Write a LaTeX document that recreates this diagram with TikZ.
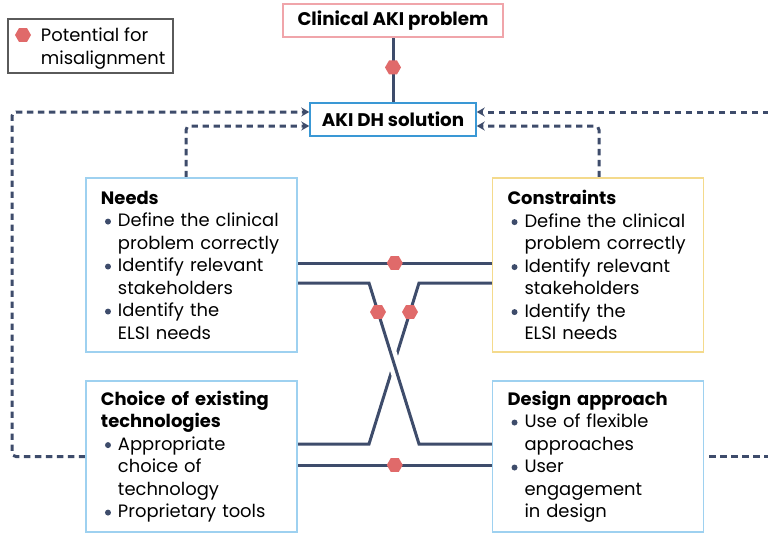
\documentclass[tikz,border=0pt]{standalone}
\usepackage{fontspec}
\setmainfont{Poppins}
\usetikzlibrary{positioning,arrows.meta,shapes.geometric,backgrounds}

\definecolor{navy}{HTML}{3E4C6B}
\definecolor{hexred}{HTML}{E06A6A}
\definecolor{boxblue}{HTML}{9ED1F0}
\definecolor{boxyellow}{HTML}{F4DA8C}
\definecolor{boxpink}{HTML}{F0A5AA}
\definecolor{solblue}{HTML}{3A98D5}
\definecolor{keygray}{HTML}{5A5A5A}

\hyphenpenalty=10000

% bullet with hanging indent, lines broken with \newline
\newlength{\bind}
\setlength{\bind}{0.51cm}
\newcommand{\bdot}{\tikz[baseline=-0.15cm]\fill[navy] (0,0) circle (0.09cm);}
\newcommand{\bitem}[1]{\par\noindent\hangindent=\bind\hangafter=1%
  \makebox[\bind][l]{\hspace{0.12cm}\bdot}#1\par}

\begin{document}
\begin{tikzpicture}[
  x=0.03cm, y=-0.03cm,
  box/.style={rectangle, draw=boxblue, line width=1.2pt, text width=5.43cm, inner xsep=0.45cm,
    align=left, font=\fontsize{15.3}{19.2}\selectfont},
  titlebox/.style={rectangle, line width=1.2pt, minimum height=0.99cm, inner xsep=0.2cm,
    font=\bfseries\fontsize{15.6}{19.2}\selectfont},
  hexa/.style={regular polygon, regular polygon sides=6, fill=hexred, draw=none,
    minimum size=0.48cm, inner sep=0pt},
  link/.style={navy, line width=0.09cm},
  over/.style={preaction={draw=white, line width=0.36cm}},
  dashline/.style={navy, line width=0.09cm, dash pattern=on 0.19cm off 0.14cm,
    rounded corners=0.12cm, -{Stealth[length=0.24cm, width=0.27cm]}},
  font=\fontsize{15.3}{19.6}\selectfont
]
\useasboundingbox (0,0) rectangle (768,533);

% top: problem and solution
\node[titlebox, draw=boxpink, minimum width=6.6cm] (problem) at (393,20.5) {Clinical AKI problem};
\node[titlebox, draw=solblue, minimum width=4.98cm, below of=problem, node distance=2.97cm] (solution) {AKI DH solution};

% key
\node[draw=keygray, line width=1pt, minimum width=4.95cm, minimum height=1.62cm] (key) at (90.5,46) {};
\node[anchor=west, align=left, inner sep=0pt] (keytext) at ([xshift=1.0cm, yshift=-0.08cm]key.west) {Potential for\\misalignment};
\node[hexa] (keyhex) at (23,35) {};

% the four boxes
\node[box, minimum height=5.22cm] (needs) at (191.5,265) {\textbf{Needs}
  \bitem{Define the clinical\newline problem correctly}
  \bitem{Identify relevant\newline stakeholders}
  \bitem{Identify the\newline ELSI needs}};
\node[box, draw=boxyellow, minimum height=5.22cm, right of=needs, node distance=12.195cm] (constraints) {\textbf{Constraints}
  \bitem{Define the clinical\newline problem correctly}
  \bitem{Identify relevant\newline stakeholders}
  \bitem{Identify the\newline ELSI needs}};
\node[box, minimum height=4.53cm, below of=needs, node distance=5.745cm] (choice) {\textbf{Choice of existing}\\\textbf{technologies}
  \bitem{Appropriate\newline choice of\newline technology}
  \bitem{Proprietary tools}};
\node[box, minimum height=4.53cm, right of=choice, node distance=12.195cm] (design) {\textbf{Design approach}
  \bitem{Use of flexible\newline approaches}
  \bitem{User\newline engagement\newline in design}};

% bends of the crossing lines
\coordinate (xl top) at (369,283);
\coordinate (xr top) at (419,283);
\coordinate (xl bot) at (369,444);
\coordinate (xr bot) at (419,444);
\coordinate (west bend) at (12,112);
\coordinate (east top) at (780,112);
\coordinate (east low) at (780,456);

\begin{scope}[on background layer]
% solid links
\draw[link] (problem) -- node[hexa, pos=0.46] {} (solution);
\draw[link] (needs.east |- 0,263) -- node[hexa] {} (constraints.west |- 0,263);
\draw[link] (choice.east |- 0,465) -- node[hexa] {} (design.west |- 0,465);
\draw[link] (constraints.west |- xr top) -- (xr top) -- node[hexa, pos=0.18] {} (xl bot) -- (choice.east |- xl bot);
\draw[link, over] (needs.east |- xl top) -- (xl top) -- node[hexa, pos=0.18] {} (xr bot) -- (design.west |- xr bot);

% dashed feedback
\draw[dashline] (choice.west) -| (west bend) -- (solution.west |- west bend);
\draw[dashline] ([xshift=-0.165cm]needs.north) |- ([yshift=-0.195cm]solution.west);
\draw[dashline] ([xshift=0.03cm]constraints.north) |- ([yshift=-0.195cm]solution.east);
\draw[dashline] (east top) -- (solution.east |- east top);
\draw[dashline, -, shorten <=0.15cm] (design.east |- east low) -- (east low);
\end{scope}
\end{tikzpicture}
\end{document}
